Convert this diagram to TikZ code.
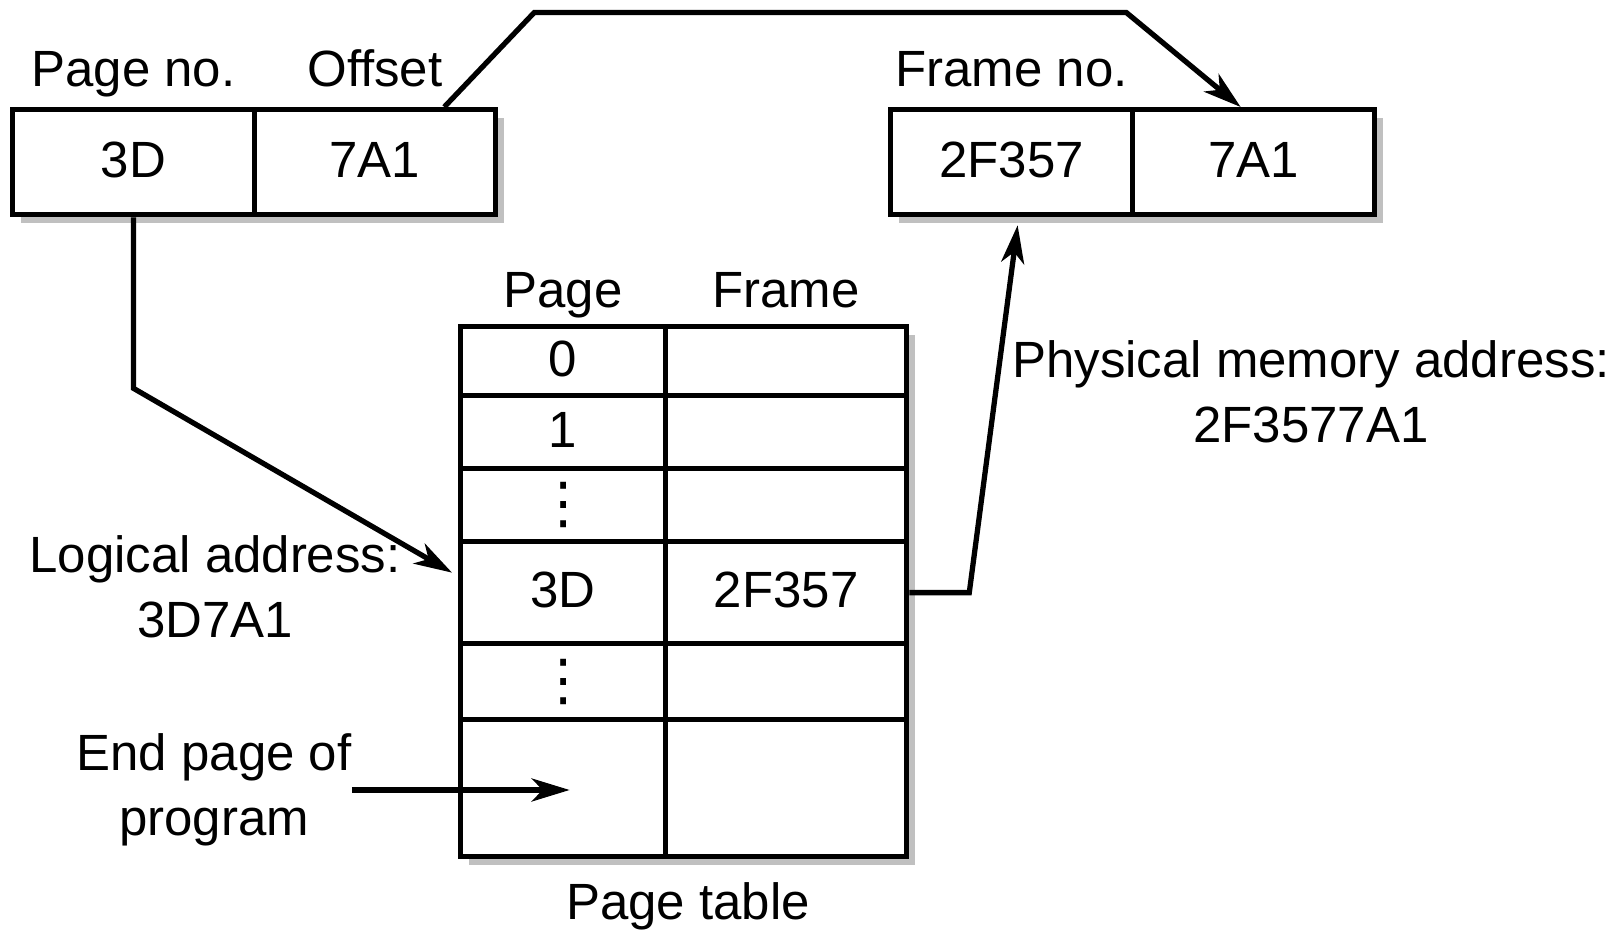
\documentclass[tikz,border=0pt]{standalone}
\usepackage{fontspec}
\setmainfont{Liberation Sans}
\newfontfamily\symfont{DejaVu Sans}
\usetikzlibrary{arrows.meta,calc}
\definecolor{shadowgray}{RGB}{192,192,192}
\newcommand{\coldots}{{\symfont\fontsize{32}{38}\selectfont ⋮}}
\tikzset{
  cell/.style={draw, fill=white, line width=3pt, minimum height=2.1cm, minimum width=4.83cm,
    inner sep=0pt, text depth=0.3em, anchor=north west, font=\fontsize{29}{37}\selectfont},
  lbl/.style={inner sep=0pt, align=center, font=\fontsize{29}{37}\selectfont},
  conn/.style={line width=3pt, -{Stealth[length=0.76cm,width=0.46cm,inset=0.22cm]}},
  shadow/.style={fill=shadowgray},
}
\begin{document}
\begin{tikzpicture}
  \useasboundingbox (0,0) rectangle (32.38,18.58);
  % Shadows
  \fill[shadow] (0.42,14.12) rectangle (10.08,16.22);
  \fill[shadow] (17.98,14.12) rectangle (27.66,16.22);
  \fill[shadow] (9.38,1.28) rectangle (18.30,11.88);
  % Logical address
  \node[cell] (pno) at (0.2,16.44) {3D};
  \node[cell] (off) at (5.03,16.44) {7A1};
  \node[lbl, anchor=base] (pnolbl) at ([yshift=0.4cm]pno.north) {Page no.};
  \node[lbl, anchor=base] (offlbl) at ([yshift=0.4cm]off.north) {Offset};
  % Physical address
  \node[cell, minimum width=4.84cm] (fno) at (17.76,16.44) {2F357};
  \node[cell, minimum width=4.84cm] (foff) at (22.60,16.44) {7A1};
  \node[lbl, anchor=base] (fnolbl) at ([yshift=0.4cm]fno.north) {Frame no.};
  % Page table
  \foreach \i/\rowy/\rowh/\pg/\fr in {0/12.10/1.38/0/, 1/10.72/1.46/1/,
      2/9.26/1.46/\coldots/, 3/7.80/2.04/3D/2F357, 4/5.76/1.52/\coldots/, 5/4.24/2.74//} {
    \node[cell, minimum width=4.10cm, minimum height=\rowh cm] (pg\i) at (9.16,\rowy) {\pg};
    \node[cell, minimum width=4.82cm, minimum height=\rowh cm] (fr\i) at (13.26,\rowy) {\fr};
  }
  \node[lbl, anchor=base] (pghead) at ([yshift=0.32cm]pg0.north) {Page};
  \node[lbl, anchor=base] (frhead) at ([yshift=0.32cm]fr0.north) {Frame};
  \node[lbl, anchor=base] (tbllbl) at (13.76,0.20) {Page table};
  % Side labels
  \node[lbl] (logical) at (4.30,6.84) {Logical address:\\3D7A1};
  \node[lbl] (endpg) at (4.28,2.78) {End page of\\program};
  \node[lbl] (physical) at (26.22,10.74) {Physical memory address:\\2F3577A1};
  % Connectors
  \draw[conn] (pno.south) -- ++(0,-3.42) -- ([shift={(-0.12,0.4)}]pg3.west);
  \draw[conn] ([xshift=-1.08cm]off.north east) -- ++(1.8,1.89) -- ++(11.84,0)
    -- ([xshift=-0.26cm]foff.north);
  \draw[conn] (fr3.east) -- ++(1.2,0) -- ([shift={(0.12,-0.16)}]fno.south);
  \draw[conn] (endpg.east) -- ($(endpg.east -| pg5.center)+(0.13,0)$);
\end{tikzpicture}
\end{document}
